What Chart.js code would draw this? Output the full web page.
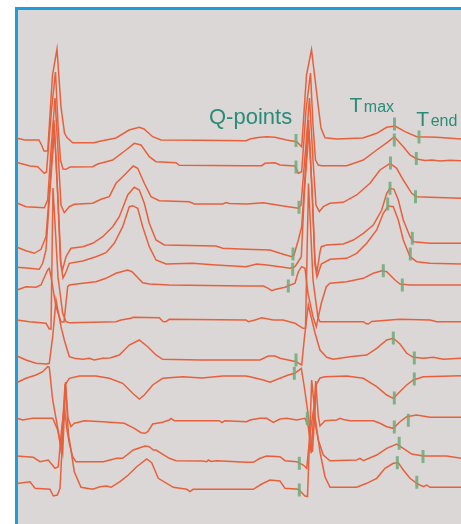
<!DOCTYPE html>
<html><head><meta charset="utf-8">
<script src="https://cdn.jsdelivr.net/npm/chart.js@4.4.1/dist/chart.umd.min.js"></script>
<style>
html,body{margin:0;padding:0;background:#fff;}
#wrap{position:relative;width:461px;height:524px;overflow:hidden;}
#panel{position:absolute;left:15px;top:7px;width:446px;height:517px;box-sizing:border-box;border-left:3px solid #1a9fdb;border-top:3px solid #1a9fdb;background:#dbd7d6;}
#c{position:absolute;left:0;top:0;}
.lbl{position:absolute;color:#2a8c78;font-family:"Liberation Sans",Arial,sans-serif;white-space:nowrap;}
.lbl span{font-size:16px;line-height:1;margin-left:1.5px;}
</style></head>
<body>
<div id="wrap">
  <div id="panel"></div>
  <canvas id="c" width="461" height="524"></canvas>
  <div class="lbl" style="left:209px;top:106.4px;font-size:22px;line-height:22px;">Q-points</div>
  <div class="lbl" style="left:349.5px;top:94.2px;font-size:21px;line-height:21px;">T<span>max</span></div>
  <div class="lbl" style="left:416.3px;top:107.7px;font-size:21px;line-height:21px;">T<span>end</span></div>
</div>
<script>
// Twelve ECG leads, two beats each: [time sample, amplitude position]
const lead1 = [[17,138.3],[25,140],[39,140],[42,146],[44,151],[47.7,151],[52.5,75],[57,49],[61,107],[64.5,133],[67,137.5],[72.7,142.7],[94,142.7],[101,141],[116,138],[129,130],[139.3,127.3],[144,129],[152.7,136.7],[161,140],[200,140.3],[246,140.7],[250,139],[258,137.5],[266.7,136.7],[275,137.3],[286.7,140],[296.7,141.7],[301.7,146.7],[306.5,75],[311.5,49.5],[318.3,106.7],[321,128],[325,137.7],[336.7,139],[363,138],[376.7,133.3],[386.7,127.3],[395,126],[405,131.7],[416.7,136.7],[436.7,137.3],[461,139]];
const lead2 = [[17,162.5],[30,166],[37.7,166.7],[41,170],[44.3,173.3],[46.5,172],[51.5,110],[55.5,72],[58,125],[60.5,160],[63,169],[66,169.3],[70,167],[92.7,166.7],[97.7,164],[112.7,160],[126,150],[134.3,143.3],[141,145],[149.3,156.7],[156,161.7],[176,162.7],[179.3,165.3],[246,165.7],[261.7,165.7],[265,163.3],[275,162.7],[280,165],[295,166],[298.3,173.3],[301.7,171.7],[306,110],[310.5,73],[313,125],[315.5,160],[318.3,165],[321.7,165.7],[346.7,165.7],[363.3,160],[376.7,150],[388.3,141.7],[394.3,136.7],[403.3,146.7],[410,155],[416.7,159],[425,160.5],[432,160],[440,161],[450,160.3],[461,160.7]];
const lead3 = [[17,203],[26,206.7],[44.3,207.7],[47.7,200],[51,150],[55,98],[58.5,160],[61,205],[64.3,212.7],[69.3,206.7],[74.3,204.3],[92.7,203.3],[101,199.3],[109.3,196.7],[116,183.3],[122.7,176.7],[133.3,166],[137.7,168.3],[144.3,183.3],[151,196.7],[159.3,200.7],[189.3,201.7],[194.3,204],[222.7,204],[226,202.5],[229.3,203.5],[246.7,204],[263.3,202.7],[283.3,206],[298.3,208.3],[301,205],[305.5,150],[309.5,98],[313,160],[316,205],[319.3,211.7],[323.3,206.7],[330,203.3],[343.3,202.3],[356.7,195],[370,183.3],[380,170],[390,163.3],[396.7,168.3],[403.3,180],[411.7,193.3],[416.7,196.7],[430,197.3],[461,198.3]];
const lead4 = [[17,247.3],[26,250.7],[34.3,253.3],[41,249.3],[46,236.7],[50,185],[54,120],[57.5,190],[60.5,262],[62.5,270],[66,256.7],[71,248.3],[82.7,246.7],[92.7,243.3],[102.7,236.7],[112.7,226.7],[119.3,216.7],[127.7,195],[134.3,187.3],[139.3,190],[144.3,203.3],[149.3,223.3],[156,240],[164.3,245],[216,246],[222.7,248.3],[246,249.3],[270,250],[280,253.3],[291.7,256.7],[294,255],[298.3,240],[301.7,226.7],[304.5,185],[308.5,120],[312,190],[315,262],[317,272],[320,252],[321.3,246.7],[326.7,245],[343.3,244],[353.3,240],[363.3,233.3],[373.3,225],[381.7,210],[386.7,193.3],[390,188.3],[394,189.3],[398.3,200],[403.3,220],[410,236.7],[413.3,241.7],[430,243.3],[461,243.3]];
const lead5 = [[17,267.3],[29.3,268.3],[39.3,269.3],[42.7,263.3],[46,250],[50,190],[54.5,130],[58,200],[61,265],[63,278],[66,272],[69.3,263.3],[82.7,261],[96,256.7],[106,252.7],[114.3,243.3],[122.7,226.7],[129.3,206.7],[132.7,205.7],[137.7,208.3],[142.7,226.7],[149.3,246.7],[156,260],[166,264],[192.7,263.3],[216,265],[246,266.7],[256.7,264],[266.7,265],[280,266.7],[290,268.3],[295,266.7],[298,262],[301.3,256.7],[304.5,190],[309,130],[312.5,200],[315,265],[317,277],[320,268],[321.3,264],[330,259.3],[346.7,258.3],[356.7,253.3],[366.7,243.3],[376.7,230],[383.3,213.3],[388.3,206],[393.3,206.7],[398.3,220],[403.3,240],[410,256.7],[416.7,261.7],[430,263.3],[461,264]];
const lead6 = [[17,290],[26,286.7],[36,287.3],[41,285],[44,278],[47.7,270],[49.3,268.3],[51,276.7],[56,306.7],[61,321.7],[64,322],[67.7,286.7],[69.3,285],[82.7,283.3],[96,281.7],[106,278.3],[116,273.3],[127.7,270],[132,271.7],[142.7,282.7],[149.3,284],[169.3,285],[246,286],[263.3,286],[268.3,288.3],[271.7,290.7],[275,289.5],[285,287.3],[295,283.3],[298.3,271.7],[301.7,266.7],[305,268.3],[308,293.3],[313,316.7],[316.3,326.7],[321.3,303.3],[326.3,286.7],[330,283.3],[346.7,281.7],[363.3,278.3],[373.3,273.3],[381.7,270.7],[386.7,271.7],[395,280],[400,284],[410,285],[461,285]];
const lead7 = [[17,320],[29.3,321.7],[46,323.3],[49.3,329],[51,329],[53,188],[58,277],[62.7,313.3],[66,321.7],[69.3,322.7],[116,321.7],[121,320],[131,318.3],[132.7,317.3],[159.3,317.7],[163,321.5],[166,321.7],[169.3,319.3],[246,320],[248.3,321.7],[255,320],[261.7,317.7],[273.3,320],[283,320],[295,323.3],[303,328.3],[305.5,328],[308.5,183.5],[313,280],[318,318],[320,321.7],[363.3,321.7],[366,323.5],[368.3,324],[371.7,321.5],[390,320],[400,319.3],[430,320],[436.7,321.7],[461,321.7]];
const lead8 = [[17,356],[26,360],[36,363.3],[46,364],[49.3,363.3],[52.7,336.7],[56,300],[61,326.7],[64.3,340],[69.3,356.7],[74.3,358.3],[82.7,359.3],[89.3,358.3],[94.3,360],[102.7,358.3],[110,358],[119.3,355],[129.3,345],[139.3,340],[147.7,346.7],[156,355],[162.7,359.3],[200,360],[246,360],[260,360],[268.3,356],[275,356],[280,358.3],[288.3,360],[296,361.7],[301.7,365],[304.5,337],[308.3,305],[315,333],[320,350],[326.7,357.3],[333.3,359.3],[350,356.7],[356.7,356],[366.7,355],[376.7,348.3],[386.7,340],[393.3,338.3],[400,344],[406.7,353.3],[413.3,357.3],[423.3,358.3],[433.3,357.3],[443.3,359.3],[461,358.3]];
const lead9 = [[17,382.5],[26,378.3],[36,375],[42.7,371.7],[47.7,366.7],[49.3,367.3],[52.7,400],[57.7,428],[61,450],[65,385],[69.3,378.3],[79.3,376],[96,376],[109.3,378.3],[122.7,383.3],[132.7,393.3],[139.3,399],[144.3,395],[152.7,385],[162.7,378.3],[182.7,376.7],[202,378],[222.7,376],[246,376],[250,376.7],[263.3,380],[270,382.3],[280,378.3],[288.3,375],[294.7,373.3],[301.3,368.3],[304,385],[308,413],[312.5,452],[316.5,384],[320,378],[325,376.7],[346.7,376],[363.3,378.3],[376.7,386.7],[386.7,395],[393.3,398.3],[398.3,393.3],[406.7,385],[413.3,380],[423.3,376.7],[461,375.7]];
const lead10 = [[17,418.3],[22.7,420],[32.7,418.3],[52.7,418.3],[57.7,430],[62.7,453.3],[65.5,384],[68,418],[71,426.7],[74.3,423.3],[76.7,422.7],[84.3,420.7],[102.7,421.7],[124.3,423.3],[134.3,428.3],[141,432.7],[145,433.3],[147.7,431.7],[152.7,424],[162.7,422.3],[169.3,420],[171,418.5],[174.3,420.7],[219.3,420.7],[222,422.5],[225,420.7],[246.7,421.7],[250,420],[260,418.3],[266.7,418.3],[273.3,422.3],[280,419],[286.7,418.3],[296.7,420],[305,418.3],[308.3,426.7],[311.2,453.3],[315.7,381],[318.3,416.7],[320,426],[325,420.7],[336.7,420],[340,418.3],[343.3,419.5],[350,420.7],[373.3,420.7],[380,423.3],[386.7,426.7],[393.3,428.3],[400,421.7],[406.7,416.7],[416.7,415],[430,417.3],[461,417.3]];
const lead11 = [[17,456],[33.3,457.3],[40,461.7],[48.3,460],[55,468.3],[58.3,466.7],[61.5,430],[64.3,406.7],[67,430],[69.3,443.3],[72.7,456.7],[76,461.7],[103.3,461.7],[116.7,458.3],[122.7,458.3],[133.3,450],[145,446],[149.3,446.7],[153.3,450],[156,450],[169.3,458.3],[176,460.7],[202.7,461],[206.7,461.7],[208.3,460],[211,461.5],[216.7,460.7],[246,462.3],[253.3,462.3],[260,458.3],[266.7,456],[280,456.7],[285,460.7],[296.7,461.7],[303.3,465],[306.7,468.3],[310.5,430],[313.5,410],[316,428],[318.3,440],[323.3,455],[330,460.7],[356.7,460],[360,458.3],[363.3,460.7],[376.7,455],[386.7,448.3],[396.7,444],[403.3,448.3],[411.7,454],[423.3,456],[446.7,456],[461,458.3]];
const lead12 = [[17,483.5],[30,481.7],[35,488.3],[50,489.3],[53.3,496],[57.3,495],[60,488.3],[62.5,440],[65.5,382],[68.3,433],[74.3,471.7],[81,487.3],[92.7,489.3],[100,486.7],[106.7,486],[111,487.3],[120,481.7],[128.3,475],[136.7,466.7],[146.7,459],[151.7,462.7],[158.3,478.3],[173.3,487.3],[186.7,489.3],[190,491.5],[193,489.3],[240,489.3],[253.3,489.3],[261.7,484],[270,480],[280,481],[285,488.3],[298.3,489.3],[305,496],[307.5,496.5],[311.7,380],[315.5,420],[320,452],[325,476.7],[330,487.3],[356.7,487.3],[366.7,483.3],[376.7,478.3],[385,468.3],[393.3,463.3],[398.3,462.7],[403.3,470],[410,478.3],[416.7,483.3],[423.3,486.7],[426.7,485],[430,487.3],[461,487.3]];

// Marker positions (Q-points, T max, T end) per lead; lead 7 has none
const qPoints = [[296,140.5],[296,167],[299,207.3],[293,254],[292.7,269.3],[288.3,286],null,[296,360],[294.3,373.3],[307.3,418.3],[299.3,463.3],[299.3,490]];
const tMax = [[394.5,124],[394.3,140],[390.5,163],[390,188.3],[387.7,204],[383.3,270.7],null,[393.3,338],[394.3,398],[394.3,427],[399.2,443.3],[397.3,462.7]];
const tEnd = [[419,137],[416.3,158.5],[415.5,196.7],[412.3,238.3],[410.3,254],[402.3,285],null,[414.3,358],[414.3,379],[408.3,420.3],[423,456.5],[416.8,482.3]];

const leads = [lead1,lead2,lead3,lead4,lead5,lead6,lead7,lead8,lead9,lead10,lead11,lead12];
const toXY = a => a.map(p => ({x:p[0], y:p[1]}));

const datasets = [];
const markers = [].concat(qPoints, tMax, tEnd).filter(p => p);
datasets.push({
  label:'markers', data: toXY(markers), showLine:false, order:-1,
  pointStyle:'line', rotation:90, pointRadius:6.5, pointHoverRadius:6.5,
  pointBorderWidth:3, pointBorderColor:'rgba(112,170,120,0.85)', pointBackgroundColor:'rgba(112,170,120,0.85)',
  borderColor:'rgba(112,170,120,0.85)'
});
leads.forEach((l,i) => datasets.push({
  label:'Lead '+(i+1), data: toXY(l), showLine:true, order:1,
  borderColor:'#e8603b', borderWidth:1.5, pointRadius:0, tension:0, fill:false
}));

new Chart(document.getElementById('c'), {
  type:'scatter',
  data:{datasets},
  options:{
    responsive:false, animation:false, devicePixelRatio:1,
    layout:{autoPadding:false, padding:{left:16, top:8, right:0, bottom:0}},
    plugins:{legend:{display:false}, tooltip:{enabled:false}},
    scales:{
      x:{type:'linear', min:16, max:461, display:false},
      y:{type:'linear', min:8, max:524, reverse:true, display:false}
    }
  }
});
</script>
</body></html>
